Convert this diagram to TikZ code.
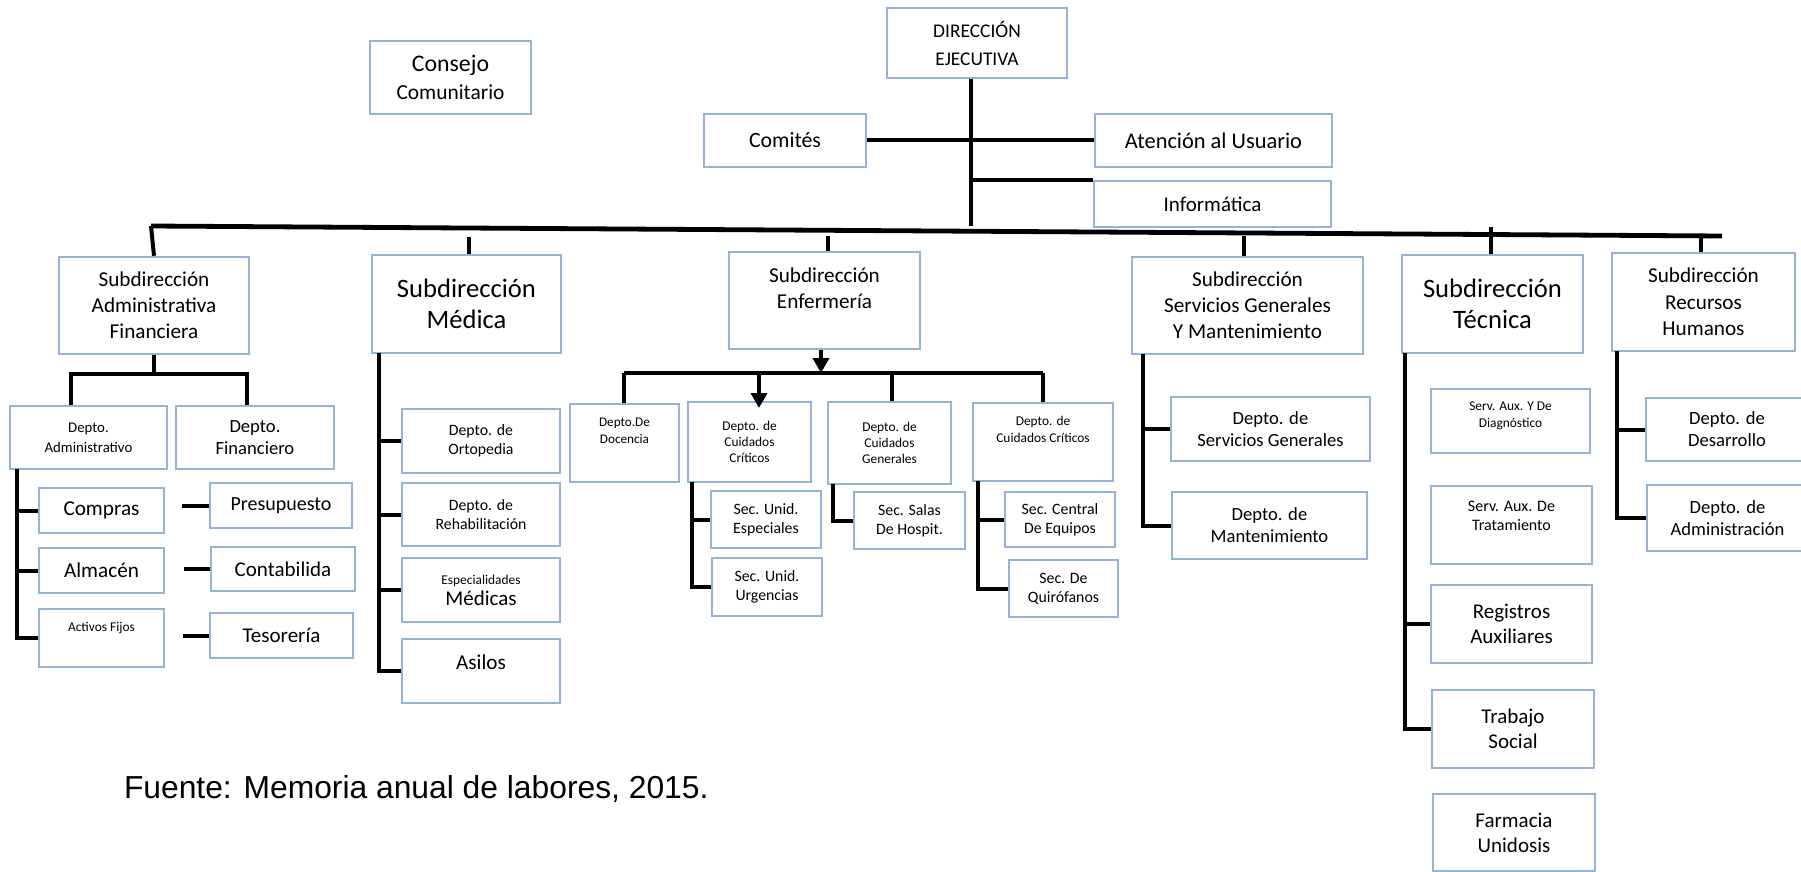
\documentclass[tikz,border=0pt]{standalone}
\usepackage{fontspec}
\setmainfont{Carlito}
\newfontfamily\arialfont{Liberation Sans}
\usepackage{tikz}
\usetikzlibrary{arrows.meta}
\definecolor{boxblue}{RGB}{149,179,215}

\begin{document}
\begin{tikzpicture}[
      x=0.5pt, y=-0.5pt,
      line width=2pt,
      >={Triangle[width=8pt,length=7.5pt]},
      box/.style={
        draw=boxblue,
        line width=1.25pt,
        align=center,
        inner sep=0pt
      },
      inlabel/.style={
        anchor=center,
        align=center
      }
    ]
      \useasboundingbox (0,0) rectangle (1801,872);

      \node (consejo) at (450.5,77.5) [box,minimum width=80.5pt,minimum height=36.5pt,font=\fontsize{10.7}{14}\selectfont] {{\fontsize{11.9}{14}\selectfont Consejo}\\Comunitario};
      \node (dir) at (977,43) [box,minimum width=90pt,minimum height=35pt,font=\fontsize{9.7}{14}\selectfont] {DIRECCIÓN\\EJECUTIVA};
      \node (comites) at (785,140.5) [box,minimum width=81pt,minimum height=26.5pt,font=\fontsize{10.9}{13}\selectfont] {Comités};
      \node (atencion) at (1213.5,140.5) [box,minimum width=118.5pt,minimum height=26.5pt,font=\fontsize{11.2}{13}\selectfont] {Atención al Usuario};
      \node (info) at (1212.5,204) [box,minimum width=118.5pt,minimum height=23pt,font=\fontsize{10.5}{13}\selectfont] {Informática};

      \node (subadm) at (154,305.5) [box,minimum width=95pt,minimum height=48.5pt,font=\fontsize{10.6}{13}\selectfont] {Subdirección\\Administrativa\\Financiera};
      \node (submed) at (466.5,304) [box,minimum width=94.5pt,minimum height=49pt,font=\fontsize{13.3}{15.8}\selectfont] {Subdirección\\Médica};
      \node (subenf) at (824.5,300.5) [box,minimum width=95.5pt,minimum height=48.5pt,label={[inlabel,yshift=-18.75pt,font=\fontsize{10.6}{13}\selectfont]north:{Subdirección\\Enfermería}}] {};
      \node (subser) at (1247.5,305.5) [box,minimum width=115.5pt,minimum height=48.5pt,font=\fontsize{10.6}{13}\selectfont] {Subdirección\\Servicios Generales\\Y Mantenimiento};
      \node (subtec) at (1492.5,304) [box,minimum width=90.5pt,minimum height=49pt,font=\fontsize{13.3}{15.8}\selectfont] {Subdirección\\Técnica};
      \node (subrh) at (1703.5,302) [box,minimum width=91.5pt,minimum height=49pt,font=\fontsize{10.6}{13.2}\selectfont] {Subdirección\\Recursos\\Humanos};

      \node (dadm) at (88.5,437.5) [box,minimum width=78.5pt,minimum height=31.5pt,font=\fontsize{7.4}{10}\selectfont] {Depto.\\Administrativo};
      \node (dfin) at (255,437.5) [box,minimum width=79pt,minimum height=31.5pt,font=\fontsize{9.3}{11}\selectfont] {Depto.\\Financiero};
      \node (compras) at (101.5,510.5) [box,minimum width=62.5pt,minimum height=22.5pt,font=\fontsize{10.6}{13}\selectfont] {Compras};
      \node (almacen) at (101.5,570.5) [box,minimum width=62.5pt,minimum height=22.5pt,font=\fontsize{10.6}{13}\selectfont] {Almacén};
      \node (activos) at (101.5,638) [box,minimum width=62.5pt,minimum height=29pt,label={[inlabel,yshift=-10pt,font=\fontsize{6.7}{8}\selectfont]north:{Activos Fijos}}] {};
      \node (presup) at (281,505.5) [box,minimum width=71pt,minimum height=22.5pt,font=\fontsize{10}{13}\selectfont] {Presupuesto};
      \node (contab) at (283,569) [box,minimum width=72pt,minimum height=22pt,font=\fontsize{10.5}{13}\selectfont] {Contabilida};
      \node (tesor) at (281.5,635.5) [box,minimum width=71.5pt,minimum height=22.5pt,font=\fontsize{10.5}{13}\selectfont] {Tesorería};

      \node (orto) at (481,441) [box,minimum width=79pt,minimum height=32pt,font=\fontsize{7.9}{9.5}\selectfont] {Depto. de\\Ortopedia};
      \node (rehab) at (481,514.5) [box,minimum width=79pt,minimum height=31.5pt,font=\fontsize{7.9}{9.5}\selectfont] {Depto. de\\Rehabilitación};
      \node (espec) at (481,590) [box,minimum width=79pt,minimum height=32pt,font=\fontsize{10.5}{10.5}\selectfont] {{\fontsize{6.7}{8}\selectfont Especialidades}\\Médicas};
      \node (asilos) at (481,671) [box,minimum width=79pt,minimum height=32pt,label={[inlabel,yshift=-12pt,font=\fontsize{10.6}{13}\selectfont]north:{Asilos}}] {};

      \node (docen) at (624.5,443) [box,minimum width=54.5pt,minimum height=39pt,label={[inlabel,yshift=-14.25pt,font=\fontsize{6.6}{8.5}\selectfont]north:{Depto.De\\Docencia}}] {};
      \node (ccrit) at (749.5,442) [box,minimum width=61.5pt,minimum height=40pt,font=\fontsize{6.7}{8}\selectfont] {Depto. de\\Cuidados\\Críticos};
      \node (cgen) at (889.5,443) [box,minimum width=61.5pt,minimum height=41pt,font=\fontsize{6.7}{8}\selectfont] {Depto. de\\Cuidados\\Generales};
      \node (ccrit2) at (1043,442) [box,minimum width=70pt,minimum height=39pt,label={[inlabel,yshift=-13.75pt,font=\fontsize{6.7}{8.5}\selectfont]north:{Depto. de\\Cuidados Críticos}}] {};
      \node (secesp) at (766,519.5) [box,minimum width=55pt,minimum height=28.5pt,font=\fontsize{7.9}{9.5}\selectfont] {Sec. Unid.\\Especiales};
      \node (securg) at (767,587) [box,minimum width=55pt,minimum height=29pt,font=\fontsize{7.9}{9.5}\selectfont] {Sec. Unid.\\Urgencias};
      \node (secsal) at (909.5,520.5) [box,minimum width=55.5pt,minimum height=28.5pt,font=\fontsize{7.9}{9.5}\selectfont] {Sec. Salas\\De Hospit.};
      \node (seccen) at (1060,519.5) [box,minimum width=55pt,minimum height=27.5pt,font=\fontsize{7.9}{9.5}\selectfont] {Sec. Central\\De Equipos};
      \node (secqui) at (1063.5,588.5) [box,minimum width=54.5pt,minimum height=28.5pt,font=\fontsize{7.9}{9.5}\selectfont] {Sec. De\\Quirófanos};

      \node (dserv) at (1270.5,429) [box,minimum width=99.5pt,minimum height=32pt,font=\fontsize{9.3}{11}\selectfont] {Depto. de\\Servicios Generales};
      \node (dmant) at (1269.5,525.5) [box,minimum width=97.5pt,minimum height=33.5pt,font=\fontsize{9.3}{11}\selectfont] {Depto. de\\Mantenimiento};

      \node (sadiag) at (1510.5,421) [box,minimum width=79.5pt,minimum height=32pt,label={[inlabel,yshift=-14.25pt,font=\fontsize{6.7}{8.5}\selectfont]north:{Serv. Aux. Y De\\Diagnóstico}}] {};
      \node (satrat) at (1511.5,525) [box,minimum width=80.5pt,minimum height=39pt,label={[inlabel,yshift=-15.75pt,font=\fontsize{8}{9.5}\selectfont]north:{Serv. Aux. De\\Tratamiento}}] {};
      \node (regis) at (1511.5,624) [box,minimum width=80.5pt,minimum height=39pt,font=\fontsize{10.5}{12.5}\selectfont] {Registros\\Auxiliares};
      \node (trabajo) at (1513,729) [box,minimum width=81pt,minimum height=39pt,font=\fontsize{10.5}{12.5}\selectfont] {Trabajo\\Social};
      \node (farma) at (1514,832.5) [box,minimum width=81pt,minimum height=38.5pt,font=\fontsize{10.5}{12.5}\selectfont] {Farmacia\\Unidosis};

      \node (ddes) at (1727,429.5) [box,minimum width=81pt,minimum height=31.5pt,font=\fontsize{9.3}{11}\selectfont] {Depto. de\\Desarrollo};
      \node (dadmin) at (1727.5,518) [box,minimum width=80.5pt,minimum height=33pt,font=\fontsize{9.3}{11}\selectfont] {Depto. de\\Administración};

      \node (fuente) at (122,798) [anchor=base west,inner sep=0pt,font=\arialfont\fontsize{15.9}{19}\selectfont] {Fuente: Memoria anual de labores, 2015.};

      \coordinate (dj) at (971,226);
      \coordinate (barL) at (151,226);
      \coordinate (barR) at (1722,236);
      \draw (dir.south -| dj) -- (dj);
      \draw (comites) -- (atencion);
      \draw (info.north west -| dj) -- (info.north west);
      \draw[line width=2.4pt] (barL) -- (barR);

      \coordinate (t2) at (469,237);
      \coordinate (t3) at (828,236);
      \coordinate (t4) at (1244,236);
      \coordinate (t5) at (1491,227);
      \coordinate (t6) at (1701,237);
      \draw (barL) -- (subadm.north);
      \draw (t2) -- (t2 |- submed.north);
      \draw (t3) -- (t3 |- subenf.north);
      \draw (t4) -- (t4 |- subser.north);
      \draw (t5) -- (t5 |- subtec.north);
      \draw (t6) -- (t6 |- subrh.north);

      \coordinate (aL) at (71,374);
      \coordinate (aR) at (247,374);
      \draw (subadm.south) -- (subadm.south |- aL);
      \draw (aL |- dadm.north) -- (aL) -- (aR) -- (aR |- dfin.north);

      \coordinate (s1) at (17,469);
      \draw (s1) |- (activos.west);
      \draw (s1 |- compras.west) -- (compras.west);
      \draw (s1 |- almacen.west) -- (almacen.west);
      \draw (presup.west) -- ++(-27,0);
      \draw (contab.west) -- ++(-26,0);
      \draw (tesor.west) -- ++(-26,0);

      \coordinate (s2) at (379,353);
      \draw (s2) |- (asilos.west);
      \draw (s2 |- orto.west) -- (orto.west);
      \draw (s2 |- rehab.west) -- (rehab.west);
      \draw (s2 |- espec.west) -- (espec.west);

      \coordinate (e0) at (821,373);
      \coordinate (eL) at (624,373);
      \coordinate (eR) at (1043,373);
      \coordinate (e1) at (759,373);
      \coordinate (e2) at (892,373);
      \draw[->] (subenf.south -| e0) -- (e0);
      \draw (eL) -- (eR);
      \draw (eL) -- (eL |- docen.north);
      \draw[->] (e1) -- ++(0,35);
      \draw (e2) -- (e2 |- cgen.north);
      \draw (eR) -- (ccrit2.north);

      \coordinate (s3) at (692,482);
      \draw (s3) |- (securg.west);
      \draw (s3 |- secesp.west) -- (secesp.west);
      \coordinate (s4) at (833,484);
      \draw (s4) |- (secsal.west);
      \coordinate (s5) at (978,481);
      \draw (s5) |- (secqui.west);
      \draw (s5 |- seccen.west) -- (seccen.west);

      \coordinate (s6) at (1143,354);
      \draw (s6) |- (dmant.west);
      \draw (s6 |- dserv.west) -- (dserv.west);
      \coordinate (s7) at (1405,353);
      \draw (s7) |- (trabajo.west);
      \draw (s7 |- regis.west) -- (regis.west);
      \coordinate (s8) at (1617,351);
      \draw (s8) |- (dadmin.west);
      \draw (s8 |- ddes.west) -- (ddes.west);

    \end{tikzpicture}
\end{document}
